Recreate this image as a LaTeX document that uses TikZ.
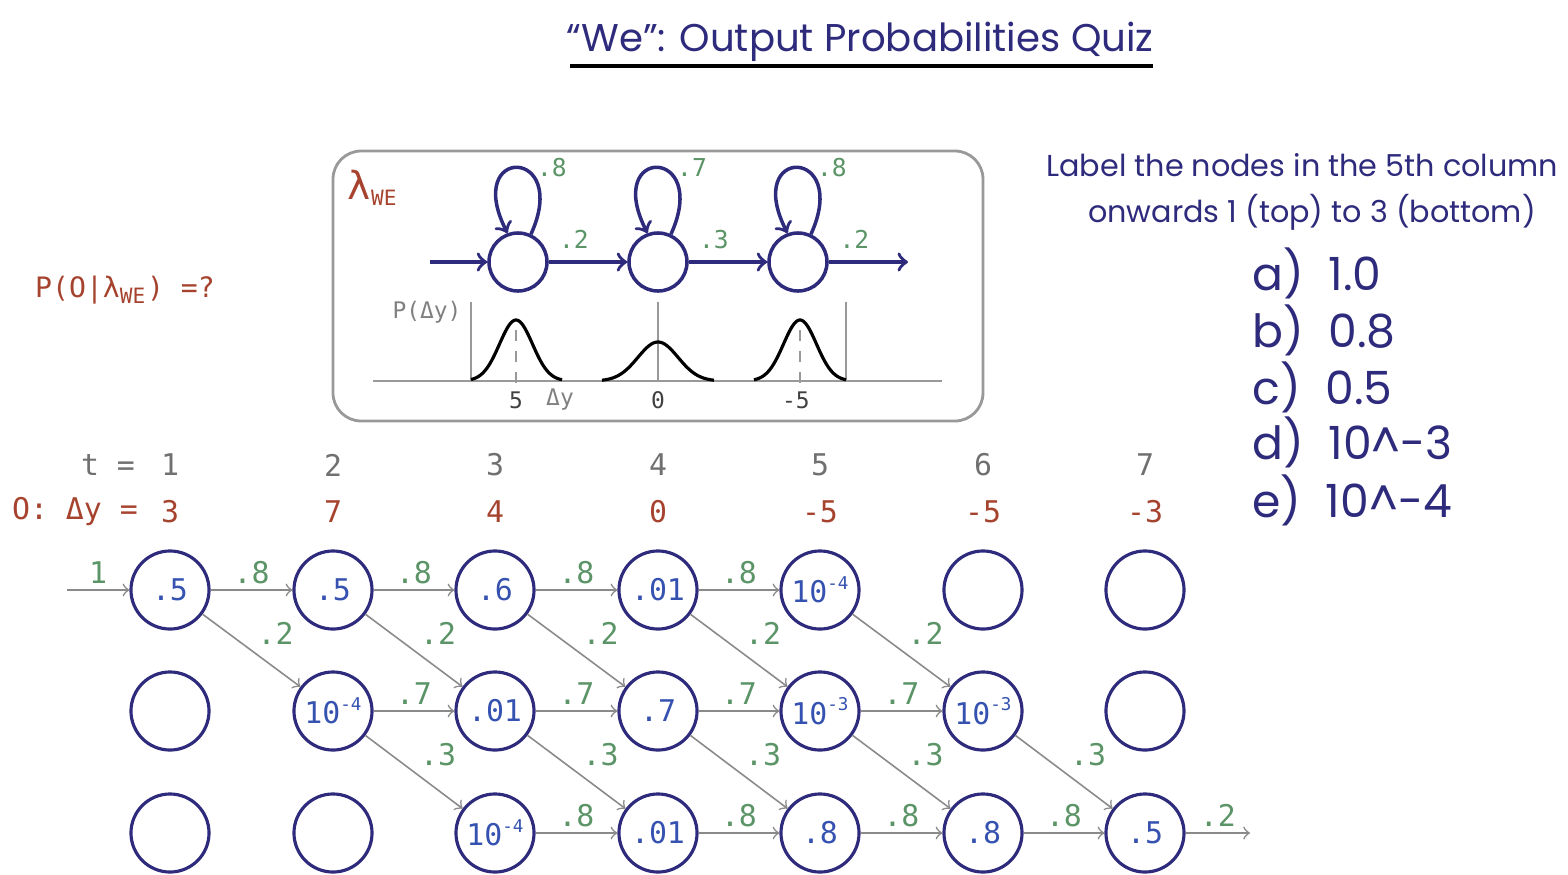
\documentclass[tikz,border=0pt]{standalone}
\usepackage{fontspec}
\usepackage{tikz}
\newfontfamily\monof{DejaVu Sans Mono}
\newfontfamily\handf{Poppins}
\definecolor{navy}{HTML}{2E2B7C}
\definecolor{nblue}{HTML}{3552B0}
\definecolor{pgreen}{HTML}{5B9467}
\definecolor{rbrown}{HTML}{A6432E}
\definecolor{egrey}{HTML}{8A8A8A}
\definecolor{tgrey}{HTML}{707070}
\newcommand{\tenpow}[1]{10\raisebox{0.45em}{\fontsize{5}{6}\selectfont #1}}

\begin{document}
\begin{tikzpicture}[x=0.01cm, y=-0.01cm,
  st/.style={circle, draw=navy, line width=0.9pt, minimum size=0.78cm, inner sep=0pt, text=nblue, font=\monof\fontsize{8.5}{10}\selectfont},
  ed/.style={->, draw=egrey, line width=0.45pt},
  pr/.style={text=pgreen, font=\monof\fontsize{8.5}{10}\selectfont, inner sep=1.5pt},
  hs/.style={circle, draw=navy, line width=1pt, minimum size=0.58cm, inner sep=0pt},
  hm/.style={->, draw=navy, line width=1pt},
  hp/.style={text=pgreen, font=\monof\fontsize{7}{8}\selectfont},
  ax/.style={draw=gray!80, line width=0.5pt},
  gs/.style={line width=0.9pt, samples=60, smooth},
  hw/.style={text=navy, font=\handf\fontsize{#1}{#1}\selectfont}]
  \useasboundingbox (0,0) rectangle (1568,875);
  % title
  \node[hw=11] (title) at (860,42) {“We”: Output Probabilities Quiz};
  \draw[line width=1.1pt] (570,66) -- (1153,66);
  \node[text=rbrown, font=\monof\fontsize{8}{10}\selectfont] (quest) at (125,290) {P(O|λ\textsubscript{WE}) =?};

  % model box
  \draw[draw=gray!80, line width=0.8pt, rounded corners=8pt] (333,151) rectangle (983,421);
  \node[text=rbrown, font=\monof\fontsize{11}{12}\selectfont] (lam) at (373,188) {λ\textsubscript{\fontsize{6}{7}\selectfont WE}};
  \node[hs] (s1) at (518,262) {};
  \node[hs] (s2) at (658,262) {};
  \node[hs] (s3) at (798,262) {};
  \coordinate (sin) at (430,262);
  \coordinate (sout) at (908,262);
  \draw[hm] (sin) -- (s1);
  \draw[hm] (s1) -- (s2) node[hp, midway, above, xshift=-4pt]{.2};
  \draw[hm] (s2) -- (s3) node[hp, midway, above, xshift=-4pt]{.3};
  \draw[hm] (s3) -- (sout) node[hp, midway, above, xshift=-4pt]{.2};
  \draw[hm] (s1.65) .. controls +(40,-88) and +(-45,-88) .. (s1.110);
  \draw[hm] (s2.65) .. controls +(40,-88) and +(-45,-88) .. (s2.110);
  \draw[hm] (s3.65) .. controls +(40,-88) and +(-45,-88) .. (s3.110);
  \node[hp] at (552,168) {.8};
  \node[hp] at (692,168) {.7};
  \node[hp] at (832,168) {.8};

  % output densities
  \draw[ax] (373,381) -- (942,381);
  \draw[ax] (471,302) -- (471,381);
  \draw[ax] (658,302) -- (658,381);
  \draw[ax] (846,302) -- (846,381);
  \draw[ax, dashed] (516,330) -- (516,390);
  \draw[ax, dashed] (800,330) -- (800,390);
  \draw[gs, domain=471:562] plot (\x, {381-61*exp(-(\x-516)*(\x-516)/542)});
  \draw[gs, domain=602:714] plot (\x, {381-39*exp(-(\x-658)*(\x-658)/804)});
  \draw[gs, domain=754:846] plot (\x, {381-61*exp(-(\x-800)*(\x-800)/542)});
  \node[text=gray, font=\monof\fontsize{6.5}{8}\selectfont] at (427,312) {P(Δy)};
  \node[font=\monof\fontsize{6.5}{8}\selectfont, text=black!75] at (516,400) {5};
  \node[font=\monof\fontsize{6.5}{8}\selectfont, text=gray] at (560,400) {Δy};
  \node[font=\monof\fontsize{6.5}{8}\selectfont, text=black!75] at (658,400) {0};
  \node[font=\monof\fontsize{6.5}{8}\selectfont, text=black!75] at (796,400) {-5};

  % quiz text
  \node[hw=8.6, anchor=west] (ask1) at (1034,165) {Label the nodes in the 5th column};
  \node[hw=8.6] (ask2) at (1312,212) {onwards 1 (top) to 3 (bottom)};
  \node[hw=13, anchor=west] (oa) at (1240,273) {a)\ \ 1.0};
  \node[hw=13, anchor=west] (ob) at (1240,330) {b)\ \ 0.8};
  \node[hw=13, anchor=west] (oc) at (1240,387) {c)\ \ 0.5};
  \node[hw=13, anchor=west] (od) at (1240,442) {d)\ \ 10\textasciicircum{}-3};
  \node[hw=13, anchor=west] (oe) at (1240,500) {e)\ \ 10\textasciicircum{}-4};

  % time and observations
  \node[text=tgrey, font=\monof\fontsize{8.5}{10}\selectfont] at (108,465) {t =};
  \node[text=rbrown, font=\monof\fontsize{8.5}{10}\selectfont] at (75,512) {O: Δy =};
  \node[text=tgrey, font=\monof\fontsize{8.5}{10}\selectfont] at (170,465) {1};
  \node[text=tgrey, font=\monof\fontsize{8.5}{10}\selectfont] at (333,465) {2};
  \node[text=tgrey, font=\monof\fontsize{8.5}{10}\selectfont] at (495,465) {3};
  \node[text=tgrey, font=\monof\fontsize{8.5}{10}\selectfont] at (658,465) {4};
  \node[text=tgrey, font=\monof\fontsize{8.5}{10}\selectfont] at (820,465) {5};
  \node[text=tgrey, font=\monof\fontsize{8.5}{10}\selectfont] at (983,465) {6};
  \node[text=tgrey, font=\monof\fontsize{8.5}{10}\selectfont] at (1145,465) {7};
  \node[text=rbrown, font=\monof\fontsize{8.5}{10}\selectfont] at (170,512) {3};
  \node[text=rbrown, font=\monof\fontsize{8.5}{10}\selectfont] at (333,512) {7};
  \node[text=rbrown, font=\monof\fontsize{8.5}{10}\selectfont] at (495,512) {4};
  \node[text=rbrown, font=\monof\fontsize{8.5}{10}\selectfont] at (658,512) {0};
  \node[text=rbrown, font=\monof\fontsize{8.5}{10}\selectfont] at (820,512) {-5};
  \node[text=rbrown, font=\monof\fontsize{8.5}{10}\selectfont] at (983,512) {-5};
  \node[text=rbrown, font=\monof\fontsize{8.5}{10}\selectfont] at (1145,512) {-3};

  % trellis
  \node[st] (a1) at (170,590) {.5};
  \node[st] (a2) at (333,590) {.5};
  \node[st] (a3) at (495,590) {.6};
  \node[st] (a4) at (658,590) {.01};
  \node[st] (a5) at (820,590) {\tenpow{-4}};
  \node[st] (a6) at (983,590) {};
  \node[st] (a7) at (1145,590) {};
  \node[st] (b1) at (170,711) {};
  \node[st] (b2) at (333,711) {\tenpow{-4}};
  \node[st] (b3) at (495,711) {.01};
  \node[st] (b4) at (658,711) {.7};
  \node[st] (b5) at (820,711) {\tenpow{-3}};
  \node[st] (b6) at (983,711) {\tenpow{-3}};
  \node[st] (b7) at (1145,711) {};
  \node[st] (c1) at (170,833) {};
  \node[st] (c2) at (333,833) {};
  \node[st] (c3) at (495,833) {\tenpow{-4}};
  \node[st] (c4) at (658,833) {.01};
  \node[st] (c5) at (820,833) {.8};
  \node[st] (c6) at (983,833) {.8};
  \node[st] (c7) at (1145,833) {.5};
  \coordinate (tin) at (67,590);
  \coordinate (tout) at (1250,833);

  \draw[ed] (tin) -- (a1) node[pr, midway, above]{1};
  \draw[ed] (a1) -- (a2) node[pr, midway, above]{.8};
  \draw[ed] (a2) -- (a3) node[pr, midway, above]{.8};
  \draw[ed] (a3) -- (a4) node[pr, midway, above]{.8};
  \draw[ed] (a4) -- (a5) node[pr, midway, above]{.8};
  \draw[ed] (a1) -- (b2) node[pr, midway, above right]{.2};
  \draw[ed] (a2) -- (b3) node[pr, midway, above right]{.2};
  \draw[ed] (a3) -- (b4) node[pr, midway, above right]{.2};
  \draw[ed] (a4) -- (b5) node[pr, midway, above right]{.2};
  \draw[ed] (a5) -- (b6) node[pr, midway, above right]{.2};
  \draw[ed] (b2) -- (b3) node[pr, midway, above]{.7};
  \draw[ed] (b3) -- (b4) node[pr, midway, above]{.7};
  \draw[ed] (b4) -- (b5) node[pr, midway, above]{.7};
  \draw[ed] (b5) -- (b6) node[pr, midway, above]{.7};
  \draw[ed] (b2) -- (c3) node[pr, midway, above right]{.3};
  \draw[ed] (b3) -- (c4) node[pr, midway, above right]{.3};
  \draw[ed] (b4) -- (c5) node[pr, midway, above right]{.3};
  \draw[ed] (b5) -- (c6) node[pr, midway, above right]{.3};
  \draw[ed] (b6) -- (c7) node[pr, midway, above right]{.3};
  \draw[ed] (c3) -- (c4) node[pr, midway, above]{.8};
  \draw[ed] (c4) -- (c5) node[pr, midway, above]{.8};
  \draw[ed] (c5) -- (c6) node[pr, midway, above]{.8};
  \draw[ed] (c6) -- (c7) node[pr, midway, above]{.8};
  \draw[ed] (c7) -- (tout) node[pr, midway, above]{.2};
\end{tikzpicture}
\end{document}
